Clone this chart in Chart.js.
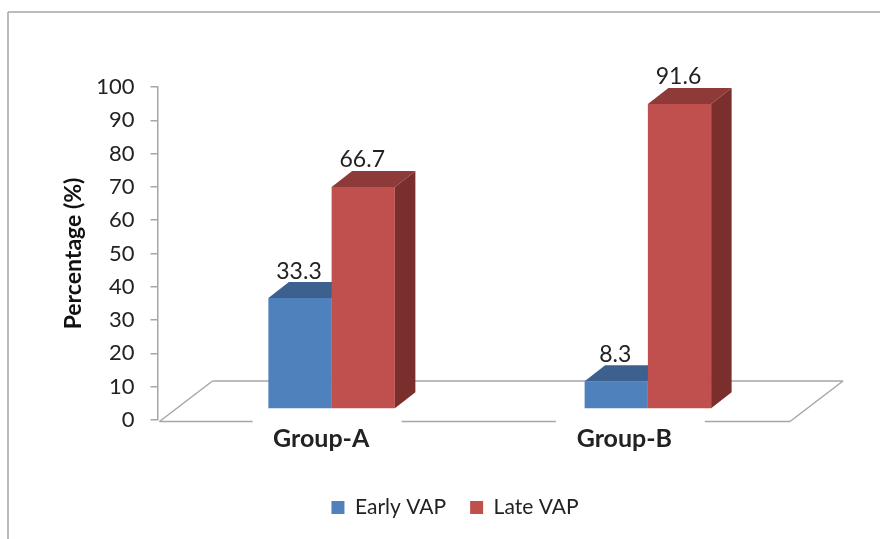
<!DOCTYPE html>
<html>
<head>
<meta charset="utf-8">
<title>VAP by group</title>
<style>
  html, body { margin: 0; padding: 0; background: #fff; }
  canvas { display: block; }
</style>
<script src="https://cdn.jsdelivr.net/npm/chart.js@4/dist/chart.umd.min.js"></script>
</head>
<body>
<canvas id="chart" width="880" height="539"></canvas>
<script>
const categories = ['Group-A', 'Group-B'];
const earlyVap = [33.3, 8.3];
const lateVap = [66.7, 91.6];
const yTickStep = 10;
const yMax = 100;

const LINE = '#a6a6a6';
const TEXT = '#222222';
const FONT = 'Lato, "Open Sans", sans-serif';

// bars sit on a floor that is pushed back from the axis plane
const shift = { x: 16, y: -11 };
const depth = { x: 20.5, y: 16 };
const floor = { x: 53, y: 40.5 };
const labelShift = [5.5, -7.5];
const faces = [
  { front: '#4f81bd', top: '#3c618f', side: '#2f4d72' },
  { front: '#c0504d', top: '#8e3a38', side: '#7a2f2d' }
];

function poly(ctx, pts, color) {
  ctx.fillStyle = color;
  ctx.beginPath();
  pts.forEach(([x, y], i) => (i ? ctx.lineTo(x, y) : ctx.moveTo(x, y)));
  ctx.closePath();
  ctx.fill();
}

function line(ctx, x0, y0, x1, y1) {
  ctx.beginPath();
  ctx.moveTo(x0, y0);
  ctx.lineTo(x1, y1);
  ctx.stroke();
}

const frame3d = {
  id: 'frame3d',
  afterLayout(chart) {
    // legend is centred under the floor, not under the axis plane
    chart.legend.left += 60;
    chart.legend.right += 60;
  },
  beforeDraw(chart) {
    const { ctx, width, height } = chart;
    ctx.save();
    ctx.strokeStyle = LINE;
    ctx.lineWidth = 1.5;
    line(ctx, 8, height, 8, 12);
    line(ctx, 8, 12, width, 12);
    ctx.restore();
  },
  beforeDatasetsDraw(chart) {
    const { ctx, scales: { x: xs, y: ys } } = chart;
    const fy = ys.bottom + 1.5;
    const fl = xs.left + 2;
    const fr = xs.right;

    ctx.save();
    ctx.strokeStyle = LINE;
    ctx.lineWidth = 1.5;
    // back and sides of the floor
    line(ctx, fl, fy, fl + floor.x, fy - floor.y);
    line(ctx, fl + floor.x, fy - floor.y, fr + floor.x, fy - floor.y);
    line(ctx, fr + floor.x, fy - floor.y, fr, fy);
    // front edge breaks around the category labels
    let from = fl;
    categories.forEach((c, i) => {
      const mid = xs.getPixelForValue(i) + labelShift[i] + 6;
      line(ctx, from, fy, mid - 74.5, fy);
      from = mid + 74.5;
    });
    line(ctx, from, fy, fr, fy);
    ctx.restore();

    ctx.save();
    ctx.translate(shift.x, shift.y);
    // top and side faces go first, the front faces cover what they should
    chart.data.datasets.forEach((ds, d) => {
      chart.getDatasetMeta(d).data.forEach((bar) => {
        const x0 = bar.x - bar.width / 2;
        const x1 = bar.x + bar.width / 2;
        poly(ctx, [[x0, bar.y], [x0 + depth.x, bar.y - depth.y], [x1 + depth.x, bar.y - depth.y], [x1, bar.y]], faces[d].top);
        poly(ctx, [[x1, bar.y], [x1 + depth.x, bar.y - depth.y], [x1 + depth.x, bar.base - depth.y], [x1, bar.base]], faces[d].side);
      });
    });
  },
  afterDatasetsDraw(chart) {
    const { ctx, scales: { x: xs, y: ys } } = chart;
    ctx.restore();

    ctx.save();
    ctx.textAlign = 'center';
    ctx.textBaseline = 'middle';
    ctx.fillStyle = TEXT;
    ctx.font = '23px ' + FONT;
    chart.data.datasets.forEach((ds, d) => {
      chart.getDatasetMeta(d).data.forEach((bar, i) => {
        ctx.fillText(ds.data[i].toFixed(1), bar.x + shift.x - 1, bar.y + shift.y - 27);
      });
    });
    ctx.font = 'bold 25px ' + FONT;
    categories.forEach((c, i) => {
      ctx.fillText(c, xs.getPixelForValue(i) + labelShift[i], ys.bottom + 19);
    });
    ctx.restore();
  }
};

new Chart(document.getElementById('chart'), {
  type: 'bar',
  data: {
    labels: categories,
    datasets: [
      { label: 'Early VAP', data: earlyVap, backgroundColor: faces[0].front, borderWidth: 0 },
      { label: 'Late VAP', data: lateVap, backgroundColor: faces[1].front, borderWidth: 0 }
    ]
  },
  options: {
    responsive: false,
    animation: false,
    layout: { padding: { top: 87, right: 90, bottom: 11, left: 0 } },
    datasets: { bar: { barPercentage: 1, categoryPercentage: 0.4 } },
    plugins: {
      tooltip: { enabled: false },
      legend: {
        position: 'bottom',
        labels: {
          boxWidth: 13,
          boxHeight: 13,
          padding: 24,
          color: TEXT,
          font: { family: FONT, size: 21 }
        }
      }
    },
    scales: {
      x: {
        grid: { display: false },
        border: { display: false },
        ticks: { display: false },
        afterFit(axis) { axis.height = 53; }
      },
      y: {
        min: 0,
        max: yMax,
        afterFit(axis) { axis.width = 157.5; },
        ticks: {
          stepSize: yTickStep,
          padding: 16,
          color: TEXT,
          font: { family: FONT, size: 22 }
        },
        grid: { drawOnChartArea: false, tickLength: 7, color: LINE, lineWidth: 1.5 },
        border: { color: LINE, width: 1.5 },
        title: {
          display: true,
          text: 'Percentage (%)',
          color: '#111111',
          padding: { top: 60, bottom: 0 },
          font: { family: FONT, size: 23, weight: 'bold' }
        }
      }
    }
  },
  plugins: [frame3d]
});
</script>
</body>
</html>
